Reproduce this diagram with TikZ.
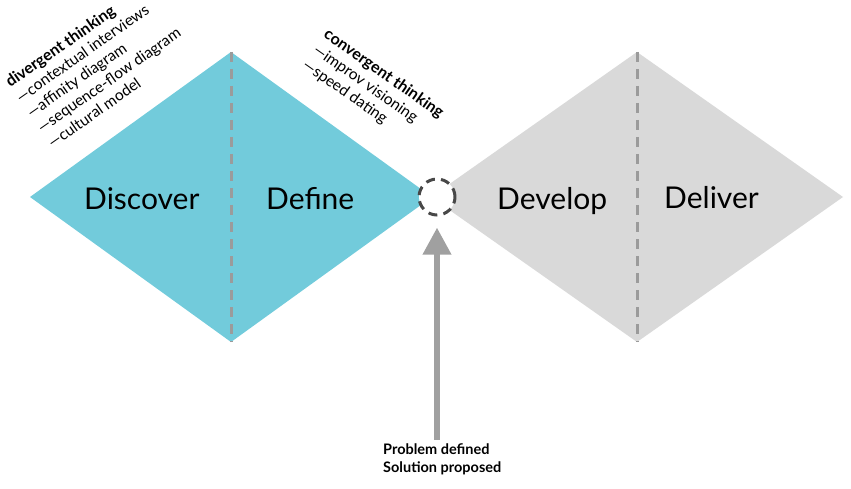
\documentclass[tikz,border=0pt]{standalone}
\usepackage{fontspec}
\setmainfont{Lato}
\usetikzlibrary{arrows.meta}
\definecolor{cyanfill}{RGB}{114,203,219}
\definecolor{grayfill}{RGB}{217,217,217}
\definecolor{dashgray}{RGB}{155,155,155}
\definecolor{circgray}{RGB}{72,72,72}
\definecolor{arrowgray}{RGB}{160,160,160}
\tikzset{
  phase/.style={font=\fontsize{30}{32}\selectfont, inner sep=0pt, anchor=base west},
  note/.style={font=\fontsize{15.5}{18}\selectfont, inner sep=0pt, anchor=base west},
  notehead/.style={note, font=\fontsize{16}{18}\selectfont\bfseries},
  divider/.style={dashgray, line width=3pt, dash pattern=on 10pt off 7pt},
}
\newcommand{\upnote}[1]{\rotatebox{35}{#1}}
\newcommand{\downnote}[1]{\rotatebox{-35}{#1}}
\begin{document}
\begin{tikzpicture}[x=1pt,y=1pt]
\useasboundingbox (0,0) rectangle (851,-489);
% diamonds
\fill[cyanfill] (30,-197) -- (231,-52) -- (432,-197) -- (231,-342) -- cycle;
\fill[grayfill] (431,-197) -- (637,-52) -- (843,-197) -- (637,-342) -- cycle;
% dividers
\draw[divider] (231,-52) -- (231,-342);
\draw[divider] (637,-52) -- (637,-342);
% phase labels
\node[phase] (disc) at (84,-210) {Discover};
\node[phase] (defi) at (266,-210) {Define};
\node[phase] (deve) at (497,-210) {Develop};
\node[phase] (deli) at (664,-208) {Deliver};
% centre circle
\node[circle, draw=circgray, fill=white, line width=3pt, dash pattern=on 9pt off 6.2pt, minimum size=36pt, inner sep=0pt] (c) at (437,-197) {};
% divergent notes (baseline starts stepped 18.5 along the perpendicular of a 35 degree line)
\node[notehead] (dv0) at (3.4,-88) {\upnote{divergent thinking}};
\node[note] (dv1) at (14.2,-103.15) {\upnote{—contextual interviews}};
\node[note] (dv2) at (24.8,-118.3) {\upnote{—affinity diagram}};
\node[note] (dv3) at (35.4,-133.45) {\upnote{—sequence-flow diagram}};
\node[note] (dv4) at (46.0,-148.6) {\upnote{—cultural model}};
% convergent notes
\node[notehead] (cv0) at (321.1,-37) {\downnote{convergent thinking}};
\node[note] (cv1) at (310.5,-52.15) {\downnote{—improv visioning}};
\node[note] (cv2) at (299.9,-67.3) {\downnote{—speed dating}};
% bottom text and arrow
\node[font=\fontsize{14.5}{18}\selectfont\bfseries, inner sep=0pt, align=left, anchor=north west] (pd) at (383,-443) {Problem defined\\Solution proposed};
\coordinate (as) at (437,-440);
\draw[arrowgray, line width=6.5pt, -{Triangle[length=27pt,width=27pt]}, shorten >=11pt] (as) -- (c.south);
\end{tikzpicture}
\end{document}
